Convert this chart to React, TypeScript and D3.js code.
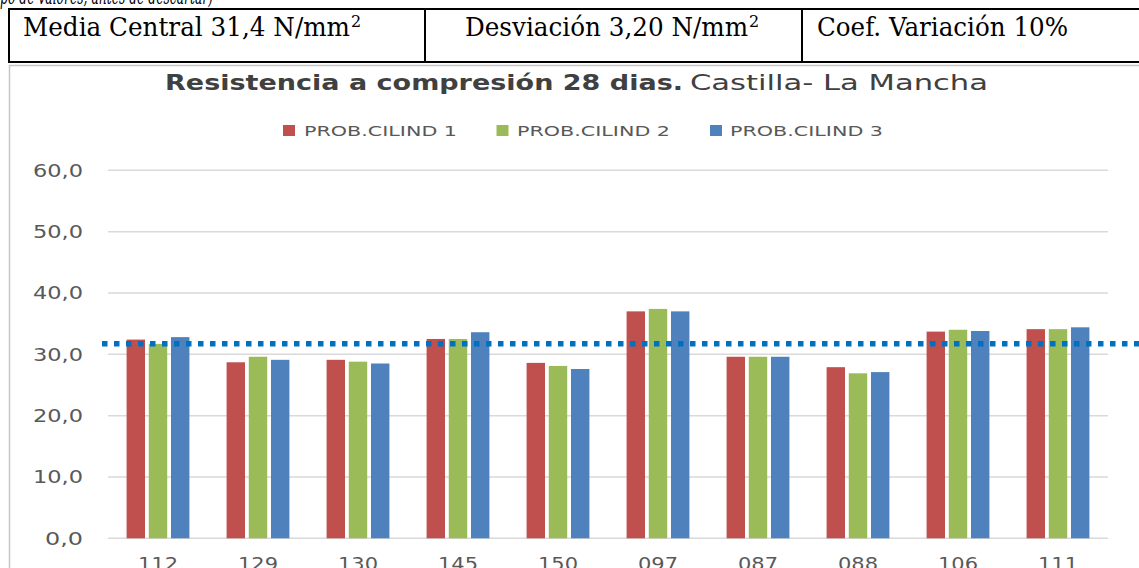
import React from 'react'
import * as d3 from 'd3'

const categories = ['112', '129', '130', '145', '150', '097', '087', '088', '106', '111']
const seriesNames = ['PROB.CILIND 1', 'PROB.CILIND 2', 'PROB.CILIND 3']
const cilind1 = [32.4, 28.7, 29.1, 32.5, 28.6, 37.0, 29.6, 27.9, 33.7, 34.1]
const cilind2 = [31.7, 29.6, 28.8, 32.5, 28.1, 37.4, 29.6, 26.9, 34.0, 34.1]
const cilind3 = [32.8, 29.1, 28.5, 33.6, 27.6, 37.0, 29.6, 27.1, 33.8, 34.4]
const yTicks = [0, 10, 20, 30, 40, 50, 60]
const mediaLine = 31.7
const colors = ['#C0504D', '#9BBB59', '#4F81BD']

const W = 1139
const H = 568

const x0 = d3.scaleBand().domain(categories).range([108, 1108]).padding(0)
const x1 = d3
  .scaleBand()
  .domain(seriesNames)
  .range([-33.3, 33.3])
  .paddingInner(0.17)
  .paddingOuter(0.085)
const y = d3.scaleLinear().domain([0, 60]).range([538.3, 170.3])
const fmt = (v: number) => d3.format('.1f')(v).replace('.', ',')

const series = [cilind1, cilind2, cilind3]

const serif = '"DejaVu Serif", serif'
const sans = '"DejaVu Sans", sans-serif'

export default function App() {
  return (
    <svg
      width={W}
      height={H}
      style={{ position: 'fixed', left: 0, top: 0, background: '#fff' }}
    >
      {/* bit of text from the page above the table */}
      <text x={0} y={4} fontFamily={serif} fontStyle="italic" fontSize={22} textLength={213} lengthAdjust="spacingAndGlyphs">
        po de valores, antes de descartar)
      </text>

      {/* table */}
      <g stroke="#000" strokeWidth={2}>
        <line x1={8} x2={W} y1={9} y2={9} />
        <line x1={8} x2={W} y1={62} y2={62} />
        <line x1={9} x2={9} y1={9} y2={62} />
        <line x1={425} x2={425} y1={9} y2={62} />
        <line x1={802} x2={802} y1={9} y2={62} />
      </g>
      <g fontFamily={serif} fontSize={25.5} fill="#000">
        <text x={23} y={36} textLength={327} lengthAdjust="spacingAndGlyphs">Media Central 31,4 N/mm</text>
        <text x={351} y={27} fontSize={16}>2</text>
        <text x={465} y={36} textLength={283} lengthAdjust="spacingAndGlyphs">Desviación 3,20 N/mm</text>
        <text x={749} y={27} fontSize={16}>2</text>
        <text x={817} y={36} textLength={251} lengthAdjust="spacingAndGlyphs">Coef. Variación 10%</text>
      </g>

      {/* chart frame */}
      <path d={`M9.5,${H}V65.5H${W}`} fill="none" stroke="#c6c6c6" strokeWidth={1.5} />

      {/* title */}
      <text y={90} fontFamily={sans} fontSize={22} fill="#404040">
        <tspan x={165} fontWeight="bold" textLength={518} lengthAdjust="spacingAndGlyphs">Resistencia a compresión 28 dias.</tspan>
        <tspan x={690} textLength={298} lengthAdjust="spacingAndGlyphs">Castilla- La Mancha</tspan>
      </text>

      {/* legend */}
      {seriesNames.map((s, i) => (
        <g key={s}>
          <rect x={283 + i * 213.5} y={125} width={12} height={11} fill={colors[i]} />
          <text x={304 + i * 213} y={136} fontFamily={sans} fontSize={14.5} fill="#595959" textLength={153} lengthAdjust="spacingAndGlyphs">
            {s}
          </text>
        </g>
      ))}

      {/* gridlines and y ticks */}
      {yTicks.map(t => (
        <g key={t}>
          <line x1={108} x2={1108} y1={y(t)} y2={y(t)} stroke="#d9d9d9" strokeWidth={1.5} />
          <text
            x={83}
            y={y(t)}
            dy="0.36em"
            textAnchor="end"
            fontFamily={sans}
            fontSize={17.5}
            fill="#595959"
            textLength={t === 0 ? 38 : 50}
            lengthAdjust="spacingAndGlyphs"
          >
            {fmt(t)}
          </text>
        </g>
      ))}

      {/* bars */}
      {categories.map((c, ci) => {
        const cx = (x0(c) as number) + x0.bandwidth() / 2
        return (
          <g key={c}>
            {seriesNames.map((s, si) => (
              <rect
                key={s}
                x={cx + (x1(s) as number)}
                y={y(series[si][ci])}
                width={x1.bandwidth()}
                height={y(0) - y(series[si][ci])}
                fill={colors[si]}
              />
            ))}
            <text
              x={cx}
              y={569.5}
              textAnchor="middle"
              fontFamily={sans}
              fontSize={17.5}
              fill="#595959"
              textLength={40}
              lengthAdjust="spacingAndGlyphs"
            >
              {c}
            </text>
          </g>
        )
      })}

      {/* mean line drawn over the chart */}
      <line
        x1={102}
        x2={W}
        y1={y(mediaLine)}
        y2={y(mediaLine)}
        stroke="#0070C0"
        strokeWidth={5.5}
        strokeDasharray="5.5 6.5"
      />
    </svg>
  )
}
